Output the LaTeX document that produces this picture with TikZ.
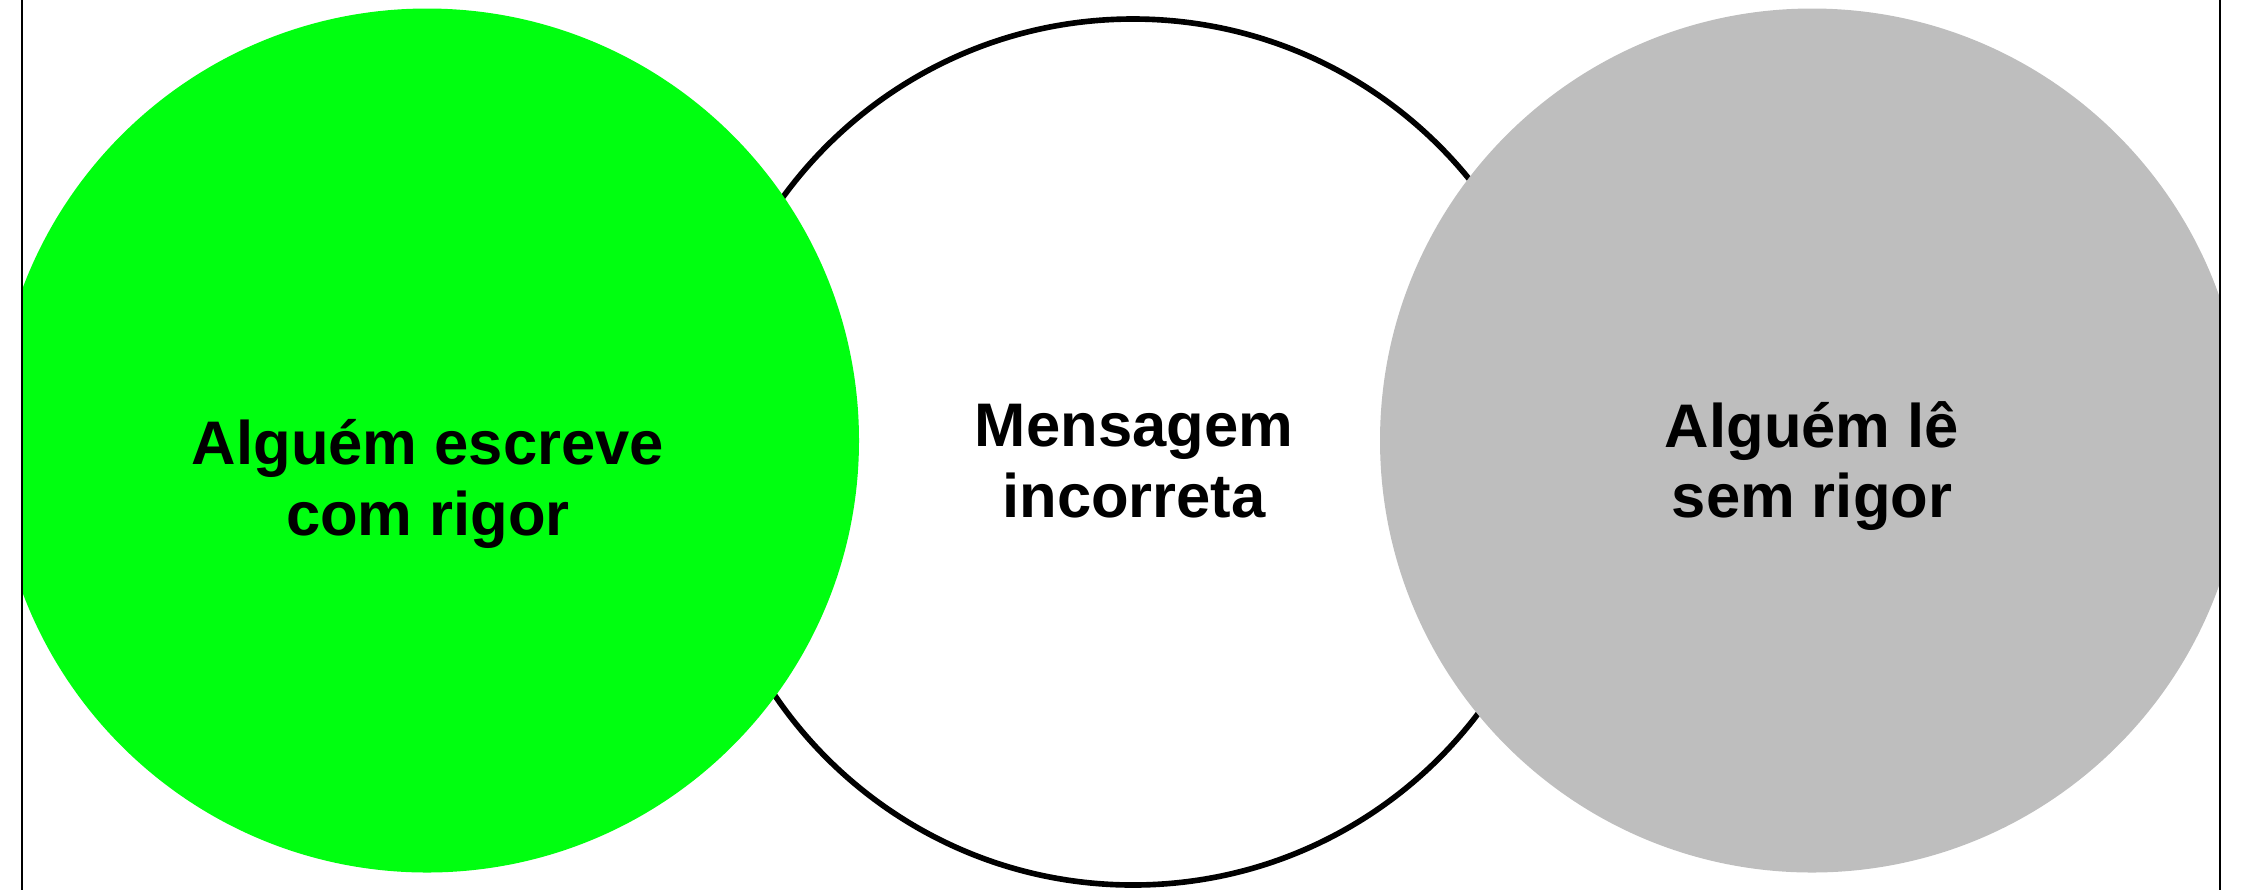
\documentclass[tikz,border=0pt]{standalone}
\usepackage{fontspec}
\setmainfont{Liberation Sans}
\definecolor{rigorgreen}{RGB}{0,255,16}
\definecolor{rigorgray}{RGB}{190,190,190}
\begin{document}
\begin{tikzpicture}[x=0.01cm,y=-0.01cm,every node/.style={font=\fontsize{17.5}{20.1}\selectfont\bfseries,align=center}]
  \useasboundingbox (0,0) rectangle (2246,890);
  \begin{scope}
    \clip (22,0) rectangle (2220,890);
    \filldraw[fill=white,draw=black,line width=1.6pt] (1133,452) circle (433);
    \fill[rigorgreen] (427,440.5) circle (432);
    \fill[rigorgray] (1812,440.5) circle (432);
  \end{scope}
  \draw[line width=0.6pt] (22,0) -- (22,890);
  \draw[line width=0.6pt] (2220,0) -- (2220,890);
  \node (escreve) at (428,484) {Alguém escreve\\com rigor};
  \node (mensagem) at (1134,461) {Mensagem\\incorreta};
  \node (le) at (1812,466) {Alguém lê\\sem rigor};
\end{tikzpicture}
\end{document}
